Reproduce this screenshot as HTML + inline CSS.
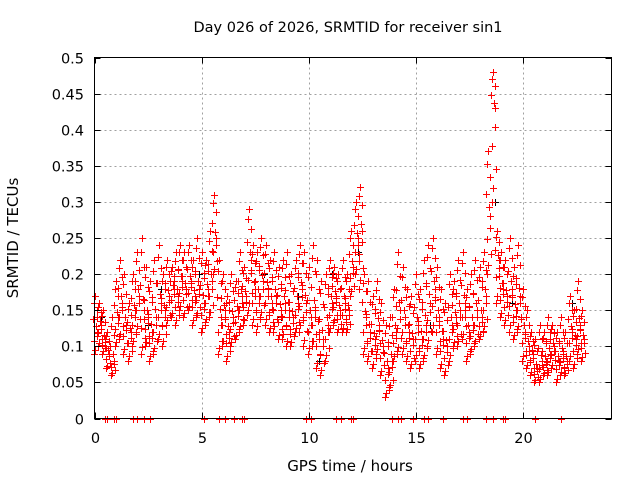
<!DOCTYPE html>
<html><head><meta charset="utf-8"><style>
body{margin:0;background:#fff;}
svg{display:block;font-family:"DejaVu Sans","Liberation Sans",sans-serif;}
</style></head><body>
<svg id="chart" width="640" height="480" viewBox="0 0 640 480">
<rect width="640" height="480" fill="#fff"/>
<text x="348" y="32" font-size="14.5" text-anchor="middle">Day 026 of 2026, SRMTID for receiver sin1</text>
<text x="0" y="0" font-size="15" text-anchor="middle" transform="translate(18,238) rotate(-90)">SRMTID / TECUs</text>
<text x="350" y="471" font-size="15" text-anchor="middle">GPS time / hours</text>
<g id="grid"></g>
<g id="marks" shape-rendering="crispEdges"></g>
<rect x="94.5" y="57.5" width="517" height="361" fill="none" stroke="#000" stroke-width="1"/>
<g id="ticks"></g>
</svg>
<script>
const yTicks=[0,0.05,0.1,0.15,0.2,0.25,0.3,0.35,0.4,0.45,0.5];
const yTickLabels=["0","0.05","0.1","0.15","0.2","0.25","0.3","0.35","0.4","0.45","0.5"];
const xTicks=[0,5,10,15,20];
const xTickLabels=["0","5","10","15","20"];
const times=[0,0.2,0.4,0.6,0.8,1,1.2,1.4,1.6,1.8,2,2.2,2.4,2.6,2.8,3,3.2,3.4,3.6,3.8,4,4.2,4.4,4.6,4.8,5,5.2,5.4,5.6,5.8,6,6.2,6.4,6.6,6.8,7,7.2,7.4,7.6,7.8,8,8.2,8.4,8.6,8.8,9,9.2,9.4,9.6,9.8,10,10.2,10.4,10.6,10.8,11,11.2,11.4,11.6,11.8,12,12.2,12.4,12.6,12.8,13,13.2,13.4,13.6,13.8,14,14.2,14.4,14.6,14.8,15,15.2,15.4,15.6,15.8,16,16.2,16.4,16.6,16.8,17,17.2,17.4,17.6,17.8,18,18.2,18.4,18.6,18.8,19,19.2,19.4,19.6,19.8,20,20.2,20.4,20.6,20.8,21,21.2,21.4,21.6,21.8,22,22.2,22.4,22.6,22.8];
const hiVals=[.17,.16,.15,.12,.14,.19,.22,.20,.16,.20,.23,.25,.21,.19,.22,.24,.20,.22,.21,.23,.24,.23,.24,.22,.25,.23,.22,.26,.31,.22,.20,.17,.20,.19,.23,.21,.29,.24,.23,.25,.24,.22,.23,.21,.22,.23,.20,.22,.24,.23,.21,.24,.22,.19,.20,.22,.21,.20,.22,.20,.26,.30,.32,.20,.19,.17,.19,.16,.13,.14,.18,.23,.21,.18,.17,.20,.18,.22,.24,.25,.21,.18,.16,.20,.19,.22,.23,.18,.20,.22,.21,.23,.37,.48,.26,.23,.22,.25,.21,.24,.18,.15,.12,.11,.13,.12,.14,.13,.12,.14,.12,.17,.15,.19,.15];
const midVals=[.12,.13,.11,.09,.08,.14,.16,.13,.12,.15,.17,.15,.14,.12,.14,.16,.15,.17,.18,.17,.19,.18,.19,.17,.18,.16,.18,.19,.25,.14,.15,.12,.14,.15,.17,.17,.22,.18,.17,.19,.18,.16,.17,.15,.16,.15,.14,.16,.18,.16,.14,.15,.12,.11,.13,.16,.17,.15,.16,.15,.21,.25,.26,.14,.12,.11,.13,.10,.07,.08,.12,.15,.14,.12,.11,.13,.11,.13,.16,.18,.14,.11,.10,.13,.14,.15,.16,.12,.13,.15,.14,.17,.28,.43,.22,.18,.17,.18,.15,.17,.12,.10,.09,.07,.08,.08,.09,.10,.08,.09,.08,.12,.11,.13,.11];
const loVals=[.09,.10,.09,.07,.06,.10,.11,.09,.08,.10,.12,.09,.10,.08,.09,.11,.10,.13,.14,.13,.15,.14,.15,.13,.14,.12,.13,.14,.20,.09,.10,.08,.10,.11,.12,.13,.15,.13,.12,.14,.13,.12,.12,.11,.11,.10,.10,.12,.12,.10,.09,.10,.07,.06,.08,.12,.13,.12,.12,.12,.17,.20,.18,.09,.08,.07,.09,.06,.03,.04,.08,.09,.09,.08,.07,.08,.07,.08,.10,.12,.09,.07,.06,.08,.10,.10,.11,.08,.09,.10,.11,.12,.20,.30,.16,.14,.13,.12,.11,.12,.08,.07,.06,.05,.05,.06,.06,.07,.05,.06,.06,.08,.07,.09,.08];
const blackTimes=[0.3,2.5,3.1,4.9,7.9,8.7,9.5,10.5,11.1,12.3,13.1,15.7,17.1,18.7,19.5,21.1,22.3];
const blackVals=[.14,.13,.18,.20,.20,.14,.17,.08,.20,.23,.11,.13,.14,.30,.16,.08,.16];
const zeroTimes=[0.5,0.6,0.9,1.0,1.8,2.0,2.3,2.6,5.1,5.8,6.1,6.5,6.9,7.0,9.9,10.1,11.3,11.5,12.0,12.1,13.9,14.2,14.3,14.9,15.4,15.6,16.3,17.2,17.4,18.3,18.6,19.1,19.2,20.6,21.8];
const zeroVals=zeroTimes.map(()=>0);

const L=94.5,R=611.5,T=57.5,B=418.5,XMAX=(R-L)/21.4,YMAX=0.5;
const xs=v=>L+v/XMAX*(R-L);
const ys=v=>B-v/YMAX*(B-T);
const NS="http://www.w3.org/2000/svg";
const grid=document.getElementById('grid'),ticks=document.getElementById('ticks'),marks=document.getElementById('marks');
function line(p,x1,y1,x2,y2,st,dash){const l=document.createElementNS(NS,'line');l.setAttribute('x1',x1);l.setAttribute('y1',y1);l.setAttribute('x2',x2);l.setAttribute('y2',y2);l.setAttribute('stroke',st);if(dash)l.setAttribute('stroke-dasharray',dash);p.appendChild(l);return l;}
yTicks.forEach((v,i)=>{const y=Math.round(ys(v))+0.5;
 if(i>0&&i<yTicks.length-1){const g=line(grid,L,y,R,y,'#a0a0a0','2,3');
 
 }
 line(ticks,L,y,L+6,y,'#000');line(ticks,R,y,R-6,y,'#000');
 const t=document.createElementNS(NS,'text');t.setAttribute('x',84);t.setAttribute('y',y+5);t.setAttribute('font-size','14.5');t.setAttribute('text-anchor','end');t.textContent=yTickLabels[i];
 
 
 ticks.appendChild(t);});
xTicks.forEach((v,i)=>{const x=Math.round(xs(v))+0.5;
 if(i>0){const g=line(grid,x,T,x,B,'#a0a0a0','2,3');
 
 }
 line(ticks,x,B,x,B-6,'#000');line(ticks,x,T,x,T+6,'#000');
 const t=document.createElementNS(NS,'text');t.setAttribute('x',x);t.setAttribute('y',443);t.setAttribute('font-size','14.5');t.setAttribute('text-anchor','middle');t.textContent=xTickLabels[i];
 
 
 ticks.appendChild(t);});
function plus(t,v,c,dx){const x=Math.round(xs(t)+dx)+0.5,y=Math.round(ys(v))+0.5;
 const p=document.createElementNS(NS,'path');p.setAttribute('d',`M${x-3.5} ${y}H${x+3.5}M${x} ${y-3.5}V${y+3.5}`);p.setAttribute('stroke',c);p.setAttribute('fill','none');
 
 
 marks.appendChild(p);}
blackTimes.forEach((t,i)=>plus(t,blackVals[i],'#000',0));
const fr=[0.15,0.35,0.6,0.8];const off=[1,-2,2,-1];
times.forEach((t,i)=>{const h=hiVals[i],m=midVals[i],l=loVals[i];
 plus(t,h,'#ff0000',0);plus(t,m,'#ff0000',2);plus(t,l,'#ff0000',-1);
 fr.forEach((f,k)=>{plus(t,m+(h-m)*f,'#ff0000',off[k]);plus(t,l+(m-l)*f,'#ff0000',-off[k]+1);});});
zeroTimes.forEach((t,i)=>plus(t,zeroVals[i],'#ff0000',0));
</script>
</body></html>
